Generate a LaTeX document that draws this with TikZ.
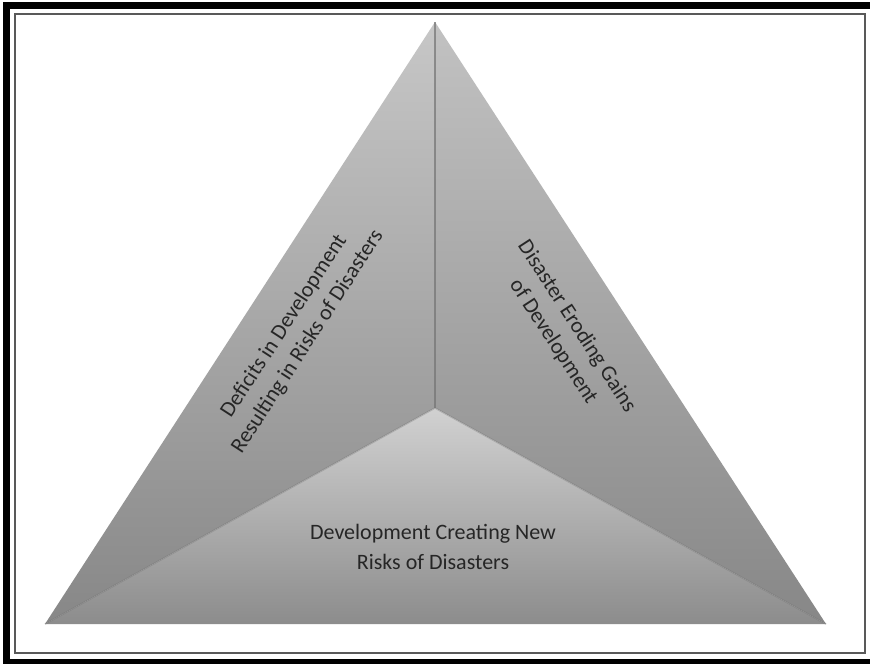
\documentclass[tikz,border=0pt]{standalone}
\usepackage{fontspec}
\setmainfont{Carlito}
\begin{document}
\begin{tikzpicture}[x=1pt,y=-1pt,
  facetext/.style={text=black!85,align=center,font=\fontsize{22}{28}\selectfont,inner sep=0pt},
  seam/.style={draw=black!55,line width=1.6pt,opacity=0.7}]
\useasboundingbox (0,0) rectangle (870,664);
% outer frame (cropped)
\fill[black] (3,2) rectangle (870,664);
\fill[white] (10,9) rectangle (870,659);
\draw[draw=black!65,line width=2pt] (15,14) rectangle (865,653);
% key points
\coordinate (A) at (435,22);
\coordinate (L) at (45,624);
\coordinate (R) at (826,624);
\coordinate (C) at (435,408);
% faces
\shade[top color=black!22,bottom color=black!47] (A) -- (C) -- (L) -- cycle;
\shade[top color=black!24,bottom color=black!47] (A) -- (R) -- (C) -- cycle;
\shade[top color=black!18,bottom color=black!45] (C) -- (R) -- (L) -- cycle;
% seams
\draw[seam] (A) -- (C);
\draw[seam,opacity=0.35] (C) -- (L);
\draw[seam,opacity=0.35] (C) -- (R);
% texts
\node[facetext,rotate=57] (tl) at (296,334) {Deficits in Development\\Resulting in Risks of Disasters};
\node[facetext,rotate=-57] (tr) at (565,334) {Disaster Eroding Gains\\of Development};
\node[facetext,font=\fontsize{22}{30}\selectfont] (tb) at (433,547) {Development Creating New\\Risks of Disasters};
\end{tikzpicture}
\end{document}
